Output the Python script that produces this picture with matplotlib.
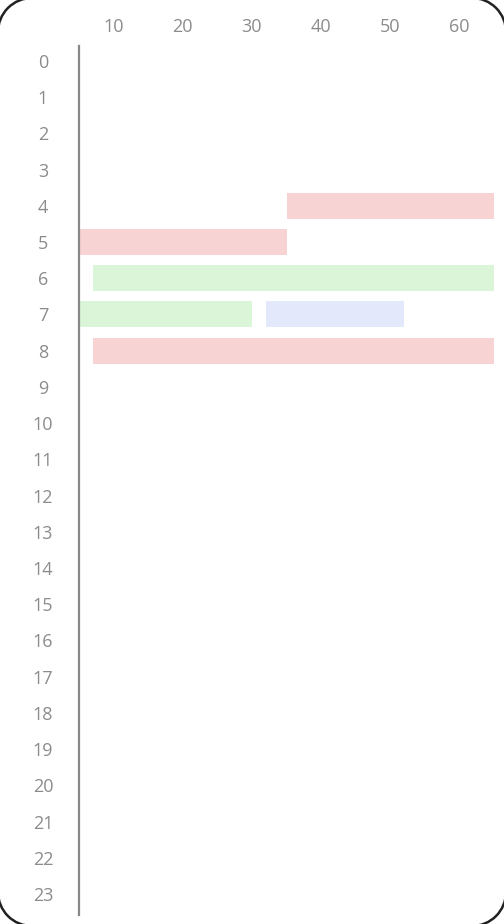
import matplotlib.pyplot as plt
from matplotlib.patches import Arc

# ---------- data -------------------------------------------------------
rows = list(range(24))
bar_rows = [4, 5, 6, 7, 7, 8]
bar_start = [35, 5, 7, 5, 32, 7]
bar_end = [65, 35, 65, 30, 52, 65]
bar_colors = ["#f8d3d3", "#f8d3d3", "#daf5d7", "#daf5d7", "#e3e9fb", "#f8d3d3"]
x_ticks = [10, 20, 30, 40, 50, 60]

plt.rcParams["font.family"] = ["Open Sans", "DejaVu Sans"]

fig = plt.figure(figsize=(5.04, 9.24), dpi=100)
fig.patch.set_facecolor("white")

# rounded device frame in pixel units, only the corners show
bg = fig.add_axes([0, 0, 1, 1], zorder=5)
bg.set_xlim(0, 504)
bg.set_ylim(0, 924)
bg.axis("off")
bg.patch.set_alpha(0)
c, r = 32, 34
corners = [(c, 924 - c, 90), (504 - c, 924 - c, 0), (c, c, 180), (504 - c, c, 270)]
for cx, cy, a0 in corners:
    bg.add_patch(Arc((cx, cy), 2 * r, 2 * r, theta1=a0, theta2=a0 + 90,
                     color="#222222", linewidth=1.8, clip_on=False))

ax = fig.add_axes([79 / 504, 9 / 924, 415 / 504, 869 / 924])

widths = [e - s for s, e in zip(bar_start, bar_end)]
ax.barh(bar_rows, widths, left=bar_start, height=0.72, color=bar_colors,
        linewidth=0)

ax.set_xlim(5, 65)
ax.set_ylim(23.58, -0.41)

ax.xaxis.tick_top()
ax.set_xticks(x_ticks)
ax.set_yticks(rows)
ax.tick_params(axis="both", length=0, labelsize=13, labelcolor="#8c8c8c")
ax.tick_params(axis="x", pad=7)
ax.tick_params(axis="y", pad=26)
for lab in ax.get_yticklabels():
    lab.set_horizontalalignment("center")

for s in ["top", "right", "bottom"]:
    ax.spines[s].set_visible(False)
ax.spines["left"].set_color("#888888")
ax.spines["left"].set_linewidth(1.6)

fig.savefig("out.png", dpi=100)
